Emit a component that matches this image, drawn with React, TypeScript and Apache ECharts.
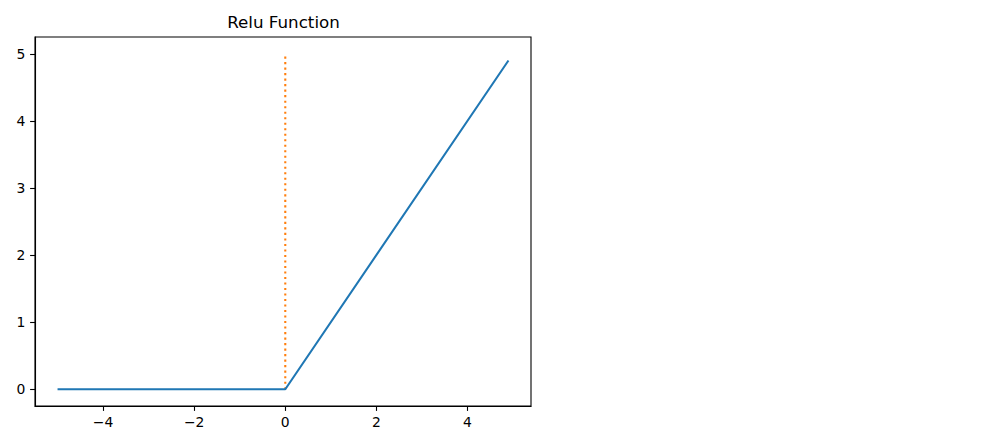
import React, { useEffect, useRef } from "react";
import * as echarts from "echarts";

const reluPoints: [number, number][] = [
  [-5, 0],
  [0, 0],
  [4.9, 4.9],
];
const markerLine: [number, number][] = [
  [0, 0],
  [0, 5],
];
const xTicks = [-4, -2, 0, 2, 4];
const yTicks = [0, 1, 2, 3, 4, 5];
const titleText = "Relu Function";

const fmt = (v: number) => (v < 0 ? "\u2212" + Math.abs(v) : String(v));

export default function App() {
  const ref = useRef<HTMLDivElement>(null);
  useEffect(() => {
    if (!ref.current) return;
    const chart = echarts.init(ref.current, undefined, { renderer: "svg" });
    const font = "DejaVu Sans";
    chart.setOption({
      animation: false,
      backgroundColor: "#ffffff",
      title: {
        text: titleText,
        left: 278.5,
        top: 8,
        textAlign: "center",
        textStyle: { fontFamily: font, fontSize: 16.7, fontWeight: "normal", color: "#000" },
      },
      grid: {
        left: 35,
        top: 37,
        width: 496,
        height: 369,
        show: true,
        borderColor: "#000",
        borderWidth: 1.1,
        backgroundColor: "transparent",
      },
      xAxis: {
        type: "value",
        min: -5.495,
        max: 5.395,
        axisLine: { show: true, onZero: false, lineStyle: { color: "#000", width: 1.1 } },
        axisTick: { show: true, length: 4.9, lineStyle: { color: "#000", width: 1.1 }, customValues: xTicks },
        axisLabel: {
          show: true,
          margin: 8.5,
          fontFamily: font,
          fontSize: 13.9,
          color: "#000",
          customValues: xTicks,
          formatter: (v: number) => fmt(v),
        },
        splitLine: { show: false },
      },
      yAxis: {
        type: "value",
        min: -0.25,
        max: 5.25,
        axisLine: { show: true, onZero: false, lineStyle: { color: "#000", width: 1.1 } },
        axisTick: { show: true, length: 4.9, lineStyle: { color: "#000", width: 1.1 }, customValues: yTicks },
        axisLabel: {
          show: true,
          margin: 9.7,
          fontFamily: font,
          fontSize: 13.9,
          color: "#000",
          customValues: yTicks,
          formatter: (v: number) => fmt(v),
        },
        splitLine: { show: false },
      },
      series: [
        {
          type: "line",
          data: reluPoints,
          showSymbol: false,
          symbol: "none",
          lineStyle: { color: "#1f77b4", width: 2.08 },
          z: 3,
        },
        {
          type: "line",
          data: markerLine,
          showSymbol: false,
          symbol: "none",
          lineStyle: { color: "#ff7f0e", width: 2.08, type: [2.08, 3.43], cap: "butt" },
          z: 2,
        },
      ],
    });
    return () => chart.dispose();
  }, []);
  return (
    <div
      ref={ref}
      style={{ position: "absolute", left: 0, top: 0, width: 999, height: 437 }}
    />
  );
}
